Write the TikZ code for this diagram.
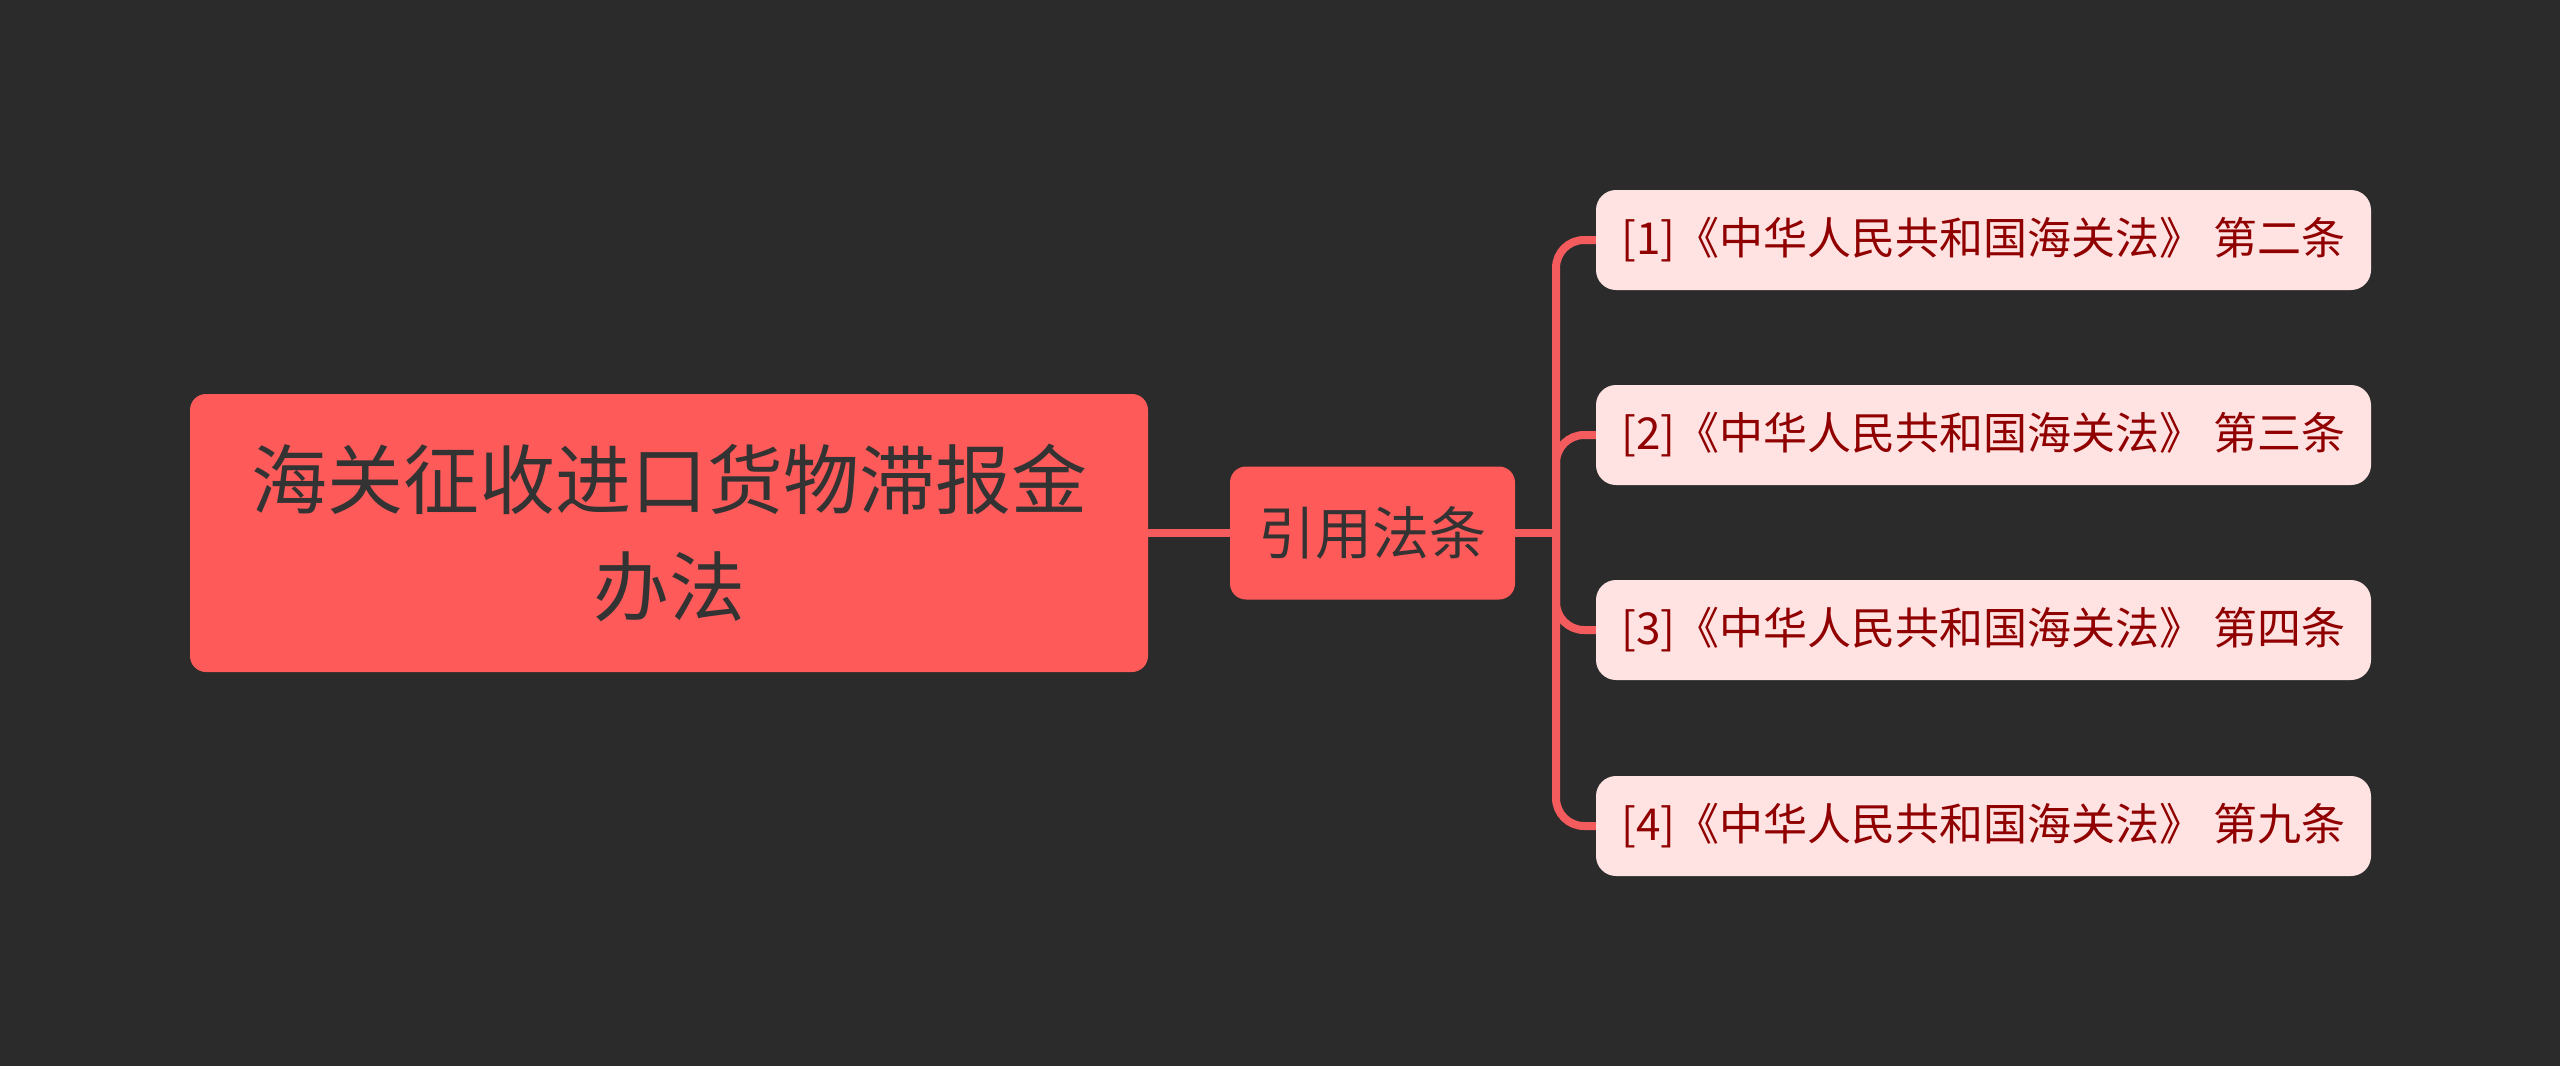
\documentclass[tikz,border=0pt]{standalone}
\usepackage{fontspec}
\setmainfont{Noto Sans CJK SC}
\usetikzlibrary{arrows}
\definecolor{bgdark}{HTML}{2B2B2B}
\definecolor{rootred}{HTML}{FF5A5A}
\definecolor{linkred}{HTML}{F45B5D}
\definecolor{leafpink}{HTML}{FFE2E2}
\definecolor{leaftext}{HTML}{900000}
\definecolor{darktext}{HTML}{333333}
\newcommand{\LawRef}[2]{%
  node (#1) [leafbox] {#2};
}

\begin{document}
\begin{tikzpicture}[x=1pt, y=1pt,
    rootbox/.style={rectangle, rounded corners=16, fill=rootred, text=darktext,
      minimum width=958, minimum height=278, inner sep=0, align=center,
      font=\fontsize{76}{107}\selectfont},
    midbox/.style={rectangle, rounded corners=16, fill=rootred, text=darktext,
      minimum width=285, minimum height=133, inner sep=0,
      font=\fontsize{57}{68}\selectfont},
    leafbox/.style={rectangle, rounded corners=20, fill=leafpink, text=leaftext,
      minimum width=775, minimum height=100, inner sep=0,
      font=\fontsize{44}{52}\selectfont},
    link/.style={draw=linkred, line width=8}]
    \fill[bgdark] (0,0) rectangle (2560,-1066);
    \useasboundingbox (0,0) rectangle (2560,-1066);

    \draw (669,-533) node (root) [rootbox] {海关征收进口货物滞报金\\办法};
    \draw (1372.5,-533) node (cite) [midbox] {引用法条};
    \coordinate (trunk) at (1556,-533);

    \draw (1983.5,-240) \LawRef{law1}{[1]《中华人民共和国海关法》 第二条}
    \draw (1983.5,-435) \LawRef{law2}{[2]《中华人民共和国海关法》 第三条}
    \draw (1983.5,-630) \LawRef{law3}{[3]《中华人民共和国海关法》 第四条}
    \draw (1983.5,-826) \LawRef{law4}{[4]《中华人民共和国海关法》 第九条}

    \draw[link] (root.east) -- (cite.west);
    \draw[link] (cite.east) -- (trunk);
    \foreach \n in {1,...,4}
      \draw[link, rounded corners=28] (trunk) |- (law\n.west);
  \end{tikzpicture}
\end{document}
